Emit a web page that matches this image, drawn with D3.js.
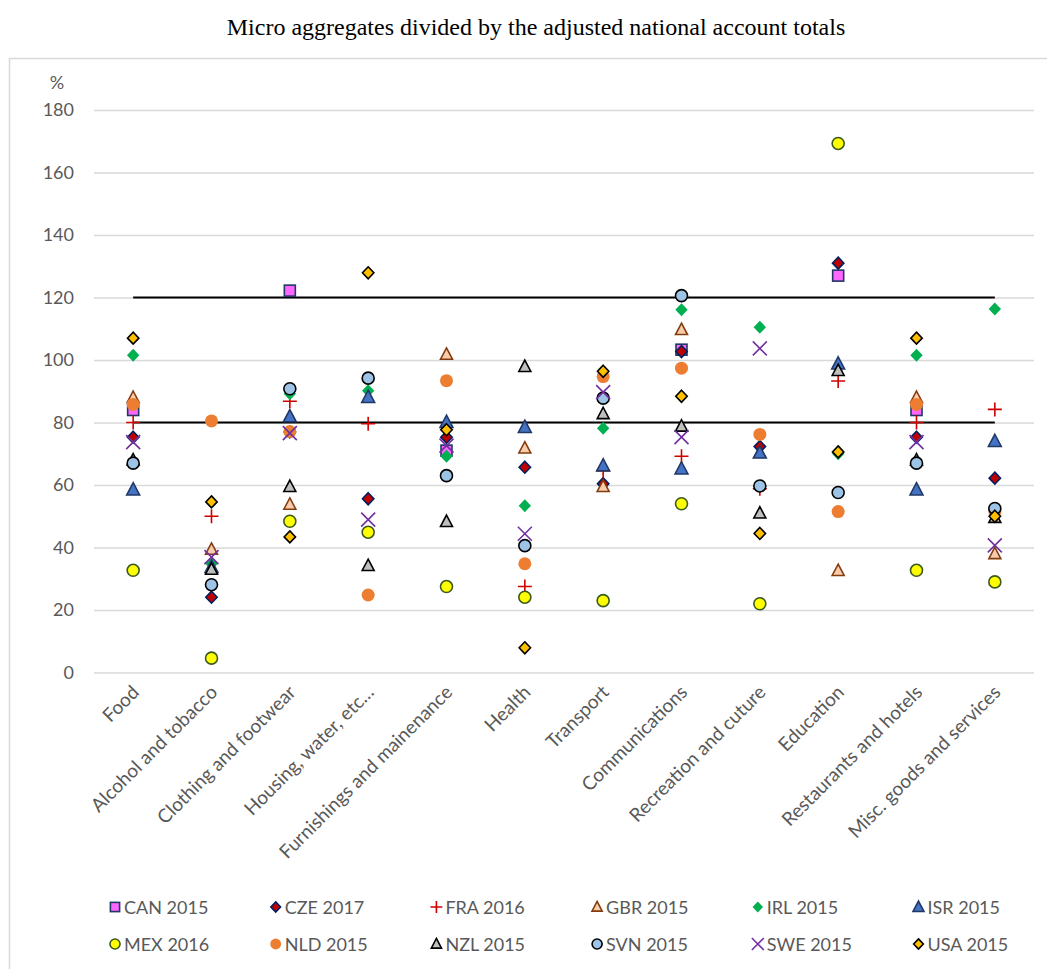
<!DOCTYPE html>
<html><head><meta charset="utf-8">
<script src="https://cdn.jsdelivr.net/npm/d3@7"></script>
<style>body{margin:0;background:#fff;} svg{display:block;}</style>
</head><body>
<svg id="chart" width="1047" height="969"></svg>
<script>
const categories = ["Food","Alcohol and tobacco","Clothing and footwear","Housing, water, etc…","Furnishings and mainenance","Health","Transport","Communications","Recreation and cuture","Education","Restaurants and hotels","Misc. goods and services"];
const yTicks = [0,20,40,60,80,100,120,140,160,180];
const bandLines = [80,120];
const seriesNames = ["CAN 2015","CZE 2017","FRA 2016","GBR 2015","IRL 2015","ISR 2015","MEX 2016","NLD 2015","NZL 2015","SVN 2015","SWE 2015","USA 2015"];
const CAN = [84.0, null, 122.2, null, 71.0, null, null, 103.3, null, 127.0, 84.0, null];
const CZE = [75.3, 24.1, 77.0, 55.6, 75.3, 65.7, 60.4, 102.7, 72.3, 131.0, 75.3, 62.2];
const FRA = [80.0, 50.0, 86.8, 79.6, null, 27.5, 64.6, 69.2, 58.8, 93.3, 80.0, 84.2];
const GBR = [88.0, 39.4, 53.8, null, 101.8, 71.8, 59.5, 109.7, null, 32.6, 88.0, 38.0];
const IRL = [101.5, 34.8, 89.2, 90.2, 69.2, 53.4, 78.2, 116.1, 110.5, 70.0, 101.5, 116.3];
const ISR = [58.5, 33.7, 81.9, 88.1, 80.1, 78.5, 66.2, 65.2, 70.3, 98.8, 58.5, 74.0];
const MEX = [32.7, 4.6, 48.4, 44.9, 27.5, 24.1, 23.0, 54.0, 22.0, 169.3, 32.7, 29.0];
const NLD = [85.8, 80.5, 77.1, 24.8, 93.4, 34.8, 94.7, 97.4, 76.2, 51.5, 85.8, 51.5];
const NZL = [68.0, 33.0, 59.5, 34.2, 48.3, 97.9, 82.8, 78.8, 51.0, 96.6, 68.0, 49.6];
const SVN = [67.0, 28.1, 90.8, 94.2, 63.0, 40.6, 87.8, 120.6, 59.7, 57.6, 67.0, 52.5];
const SWE = [73.7, 36.9, 76.6, 48.9, 72.6, 44.4, 89.7, 75.3, 103.7, null, 73.7, 40.7];
const USA = [107.0, 54.6, 43.4, 127.9, 77.7, 7.9, 96.4, 88.4, 44.5, 70.6, 107.0, 50.0];
const seriesValues = [CAN, CZE, FRA, GBR, IRL, ISR, MEX, NLD, NZL, SVN, SWE, USA];

const styles = [
  {shape:"square", fill:"#FF66FF", stroke:"#1F3864", size:12},
  {shape:"diamond", fill:"#C00000", stroke:"#002060", size:12},
  {shape:"plus", fill:"none", stroke:"#D00000", size:14},
  {shape:"triangle", fill:"#F8CBAD", stroke:"#843C0C", size:13},
  {shape:"diamond", fill:"#00B050", stroke:"none", size:13},
  {shape:"triangle", fill:"#4472C4", stroke:"#203864", size:14},
  {shape:"circle", fill:"#FFFF00", stroke:"#3A5A1E", size:13},
  {shape:"circle", fill:"#ED7D31", stroke:"none", size:14},
  {shape:"triangle", fill:"#BFBFBF", stroke:"#000000", size:13},
  {shape:"circle", fill:"#9DC3E6", stroke:"#000000", size:13},
  {shape:"cross", fill:"none", stroke:"#7030A0", size:14},
  {shape:"diamond", fill:"#FFC000", stroke:"#000000", size:12}
];

function drawMarker(g, st, x, y, scale) {
  const s = st.size * (scale||1), h = s/2;
  let el;
  if (st.shape === "circle") {
    el = g.append("circle").attr("cx", x).attr("cy", y).attr("r", h - 0.5);
  } else if (st.shape === "square") {
    el = g.append("rect").attr("x", x-h+0.5).attr("y", y-h+0.5).attr("width", s-1).attr("height", s-1);
  } else if (st.shape === "diamond") {
    el = g.append("path").attr("d", `M${x},${y-h}L${x+h*0.95},${y}L${x},${y+h}L${x-h*0.95},${y}Z`);
  } else if (st.shape === "triangle") {
    el = g.append("path").attr("d", `M${x},${y-h}L${x+h*0.92},${y+h*0.75}L${x-h*0.92},${y+h*0.75}Z`);
  } else if (st.shape === "plus") {
    el = g.append("path").attr("d", `M${x-h},${y}L${x+h},${y}M${x},${y-h}L${x},${y+h}`);
  } else if (st.shape === "cross") {
    el = g.append("path").attr("d", `M${x-h},${y-h}L${x+h},${y+h}M${x+h},${y-h}L${x-h},${y+h}`);
  }
  el.attr("fill", st.fill).attr("stroke", st.stroke).attr("stroke-width", 1.6);
  return el;
}

const svg = d3.select("#chart");
const font = "Lato, 'Liberation Sans', sans-serif";

// outer frame
svg.append("rect").attr("x", 9.5).attr("y", 58.5).attr("width", 1060).attr("height", 940)
  .attr("fill", "none").attr("stroke", "#D9D9D9").attr("stroke-width", 1.5);

svg.append("text").attr("x", 536).attr("y", 35).attr("text-anchor", "middle")
  .attr("font-family", "'Liberation Serif', 'Times New Roman', serif").attr("font-size", 24)
  .attr("fill", "#000").text("Micro aggregates divided by the adjusted national account totals");

const x = d3.scaleBand().domain(categories).range([94, 1034]);
const y = d3.scaleLinear().domain([0, 180]).range([672.5, 110]);

const yAxis = svg.append("g").attr("transform", "translate(94,0)")
  .call(d3.axisLeft(y).tickValues(yTicks).tickSize(-940).tickPadding(20).tickFormat(d3.format("d")));
yAxis.select(".domain").remove();
yAxis.selectAll(".tick line").attr("stroke", "#D9D9D9").attr("stroke-width", 1.5);
yAxis.selectAll(".tick text").attr("font-family", font).attr("font-size", 18).attr("fill", "#595959");

svg.append("text").attr("x", 57).attr("y", 89).attr("text-anchor", "middle")
  .attr("font-family", font).attr("font-size", 18).attr("fill", "#595959").text("%");

// x axis labels
const xAxis = svg.append("g").attr("transform", `translate(0,${y(0)})`)
  .call(d3.axisBottom(x).tickSize(0).tickPadding(0));
xAxis.select(".domain").remove();
xAxis.selectAll(".tick text")
  .attr("font-family", font).attr("font-size", 19).attr("fill", "#595959")
  .attr("text-anchor", "end").attr("dy", 0)
  .attr("transform", "translate(7,21) rotate(-45)");

// reference lines from first to last category center
const cFirst = x(categories[0]) + x.bandwidth()/2;
const cLast = x(categories[categories.length-1]) + x.bandwidth()/2;
svg.append("g").selectAll("line").data(bandLines).join("line")
  .attr("x1", cFirst).attr("x2", cLast)
  .attr("y1", d => y(d)).attr("y2", d => y(d))
  .attr("stroke", "#000").attr("stroke-width", 1.8);

// markers
const mg = svg.append("g");
seriesValues.forEach((vals, si) => {
  vals.forEach((v, ci) => {
    if (v === null) return;
    drawMarker(mg, styles[si], x(categories[ci]) + x.bandwidth()/2, y(v));
  });
});

// legend
const lg = svg.append("g");
seriesNames.forEach((name, i) => {
  const col = i % 6, row = Math.floor(i / 6);
  const lx = 115 + col * 160.7, ly = 907 + row * 37;
  drawMarker(lg, styles[i], lx, ly, 0.85);
  lg.append("text").attr("x", lx + 9).attr("y", ly + 6.5)
    .attr("font-family", font).attr("font-size", 18).attr("fill", "#595959").text(name);
});
</script>
</body></html>
